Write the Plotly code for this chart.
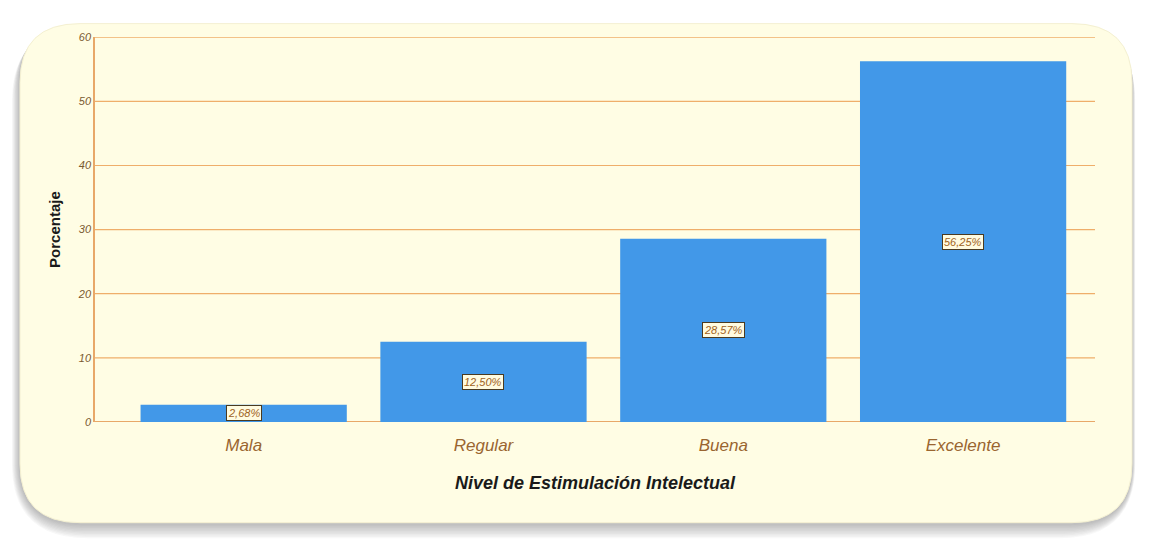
import plotly.graph_objects as go

# Frequency table: intellectual stimulation level
categorias = ["Mala", "Regular", "Buena", "Excelente"]
porcentajes = [2.68, 12.50, 28.57, 56.25]
y_ticks = [0, 10, 20, 30, 40, 50, 60]

W, H = 1152, 560

def px(x):
    return x / W

def py(y):
    return 1 - y / H

def rounded_rect(x0, y0, x1, y1, r):
    """SVG path (paper coords) for a rounded rectangle given in pixels."""
    pts = [
        f"M {px(x0 + r)},{py(y0)}",
        f"L {px(x1 - r)},{py(y0)}",
        f"Q {px(x1)},{py(y0)} {px(x1)},{py(y0 + r)}",
        f"L {px(x1)},{py(y1 - r)}",
        f"Q {px(x1)},{py(y1)} {px(x1 - r)},{py(y1)}",
        f"L {px(x0 + r)},{py(y1)}",
        f"Q {px(x0)},{py(y1)} {px(x0)},{py(y1 - r)}",
        f"L {px(x0)},{py(y0 + r)}",
        f"Q {px(x0)},{py(y0)} {px(x0 + r)},{py(y0)}",
        "Z",
    ]
    return " ".join(pts)

shapes = []
# soft drop shadow under the card
for i in range(10):
    d = 16 - 1.5 * i
    shapes.append(dict(
        type="path", xref="paper", yref="paper", layer="below",
        path=rounded_rect(20 - d * 0.5, 18 + d * 0.2, 1132 + d * 0.2, 528 + d, 60 + d),
        fillcolor="rgba(60,60,60,0.035)", line=dict(width=0),
    ))
# cream card
shapes.append(dict(
    type="path", xref="paper", yref="paper", layer="below",
    path=rounded_rect(20, 18, 1132, 528, 60),
    fillcolor="#FFFDE4", line=dict(color="#F4F0D2", width=1),
))
# horizontal reference lines, drawn above the card and below the bars
for t in y_ticks[1:]:
    shapes.append(dict(
        type="line", xref="x domain", yref="y", layer="below",
        x0=0, x1=1, y0=t, y1=t,
        line=dict(color="#EFAE6A", width=1.2),
    ))

fig = go.Figure()
fig.add_trace(go.Bar(
    x=categorias,
    y=porcentajes,
    marker=dict(color="#4298E8", line=dict(width=0)),
    width=0.86,
    hoverinfo="skip",
))

annotations = []
for c, v in zip(categorias, porcentajes):
    annotations.append(dict(
        x=c, y=v / 2, xref="x", yref="y",
        text=f"{v:.2f}%".replace(".", ","),
        showarrow=False,
        font=dict(family="Liberation Sans", size=11, color="#A0621C", style="italic"),
        bgcolor="#FFFBE0", bordercolor="#4A3A20", borderwidth=1, borderpad=1,
    ))

fig.update_layout(
    width=W, height=H,
    margin=dict(l=0, r=0, t=0, b=0),
    paper_bgcolor="white",
    plot_bgcolor="rgba(0,0,0,0)",
    showlegend=False,
    shapes=shapes,
    annotations=annotations,
    xaxis=dict(
        domain=[px(95), px(1095)],
        range=[-0.62, 3.55],
        showgrid=False,
        showline=False,
        ticks="outside",
        ticklen=8,
        tickcolor="rgba(0,0,0,0)",
        tickfont=dict(family="Liberation Sans", size=17, color="#9A6530", style="italic"),
        title=dict(
            text="<b><i>Nivel de Estimulación Intelectual</i></b>",
            font=dict(family="Liberation Sans", size=18, color="#1A1A1A"),
            standoff=22,
        ),
        anchor="y",
    ),
    yaxis=dict(
        domain=[py(425), py(32)],
        range=[0, 60],
        tickvals=y_ticks,
        showgrid=False,
        zeroline=True,
        zerolinecolor="#E8A868",
        zerolinewidth=1,
        showline=True,
        linecolor="#E8A868",
        linewidth=1.5,
        ticks="",
        tickfont=dict(family="Liberation Sans", size=11, color="#7A5A30", style="italic"),
        title=dict(
            text="<b>Porcentaje</b>",
            font=dict(family="Liberation Sans", size=15, color="#1A1A1A"),
            standoff=14,
        ),
        anchor="x",
    ),
)

fig.write_html("out.html")
